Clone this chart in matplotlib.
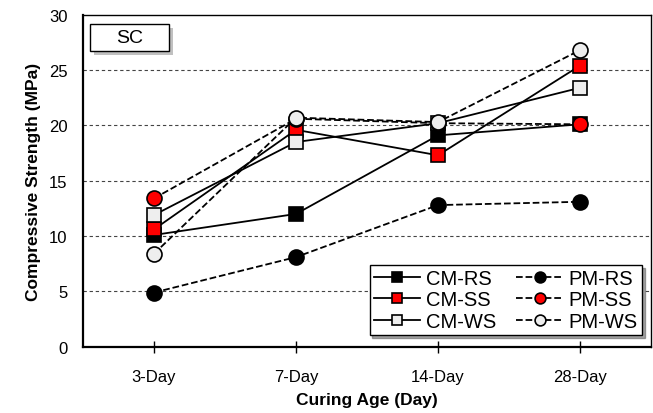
import matplotlib.pyplot as plt
import matplotlib.patheffects as pe
from matplotlib.patches import Rectangle

plt.rcParams['font.family'] = ['Liberation Sans', 'DejaVu Sans']

ages = ["3-Day", "7-Day", "14-Day", "28-Day"]

# compressive strength (MPa)
cm_rs = [10.1, 12.0, 19.1, 20.1]
cm_ss = [10.6, 19.6, 17.3, 25.4]
cm_ws = [11.9, 18.5, 20.2, 23.4]
pm_rs = [4.9, 8.1, 12.8, 13.1]
pm_ss = [13.4, 20.6, 20.2, 20.1]
pm_ws = [8.4, 20.7, 20.3, 26.8]

series = [
    ("CM-RS", cm_rs, "s", "black", "-"),
    ("CM-SS", cm_ss, "s", "#ff0000", "-"),
    ("CM-WS", cm_ws, "s", "#eeeeee", "-"),
    ("PM-RS", pm_rs, "o", "black", "--"),
    ("PM-SS", pm_ss, "o", "#ff0000", "--"),
    ("PM-WS", pm_ws, "o", "#eeeeee", "--"),
]

fig, ax = plt.subplots(figsize=(6.53, 4.14), dpi=100)
fig.subplots_adjust(left=0.127, right=0.997, top=0.962, bottom=0.16)

x = list(range(len(ages)))
for i in [5, 10, 15, 20, 25]:
    ax.axhline(i, color='#444444', lw=0.8, ls=(0, (3, 2.5)), zorder=0)

handles = []
for name, vals, mk, col, ls in series:
    ms = 9.8 if mk == "s" else 10.8
    h, = ax.plot(x, vals, ls=ls, color='black', lw=1.3, marker=mk, ms=ms,
                 mfc=col, mec='black', mew=1.2, label=name)
    handles.append(h)

ax.set_xlim(-0.5, 3.5)
ax.set_ylim(0, 30)
ax.set_xticks(x)
ax.set_xticklabels(ages)
ax.set_yticks(range(0, 31, 5))
ax.tick_params(axis='x', direction='inout', length=8, width=1, labelsize=12, pad=12)
ax.tick_params(axis='y', length=0, labelsize=12, pad=11)
for s in ['left', 'bottom']:
    ax.spines[s].set_linewidth(1.6)
for s in ['top', 'right']:
    ax.spines[s].set_linewidth(1.0)

ax.set_xlabel("Curing Age (Day)", fontsize=12.5, fontweight='bold', labelpad=6)
ax.set_ylabel("Compressive Strength (MPa)", fontsize=12.5, fontweight='bold', labelpad=6)

leg = ax.legend(handles=handles, ncol=2, loc='lower right', fontsize=14.5,
                frameon=True, fancybox=False, shadow=True, edgecolor='black',
                markerscale=0.72, handlelength=2.3, labelspacing=0.12,
                columnspacing=1.0, borderpad=0.2, handletextpad=0.3,
                borderaxespad=0, bbox_to_anchor=(0.984, 0.036))
leg.get_frame().set_linewidth(1.0)

# "SC" label box with a drop shadow
box = Rectangle((0.012, 0.892), 0.139, 0.081, transform=ax.transAxes,
                fc='white', ec='black', lw=1.0, zorder=5)
box.set_path_effects([pe.SimplePatchShadow(offset=(3, -3), alpha=0.35), pe.Normal()])
ax.add_patch(box)
ax.text(0.082, 0.932, "SC", transform=ax.transAxes, fontsize=14,
        ha='center', va='center', zorder=6)

fig.savefig("out.png", dpi=100)
